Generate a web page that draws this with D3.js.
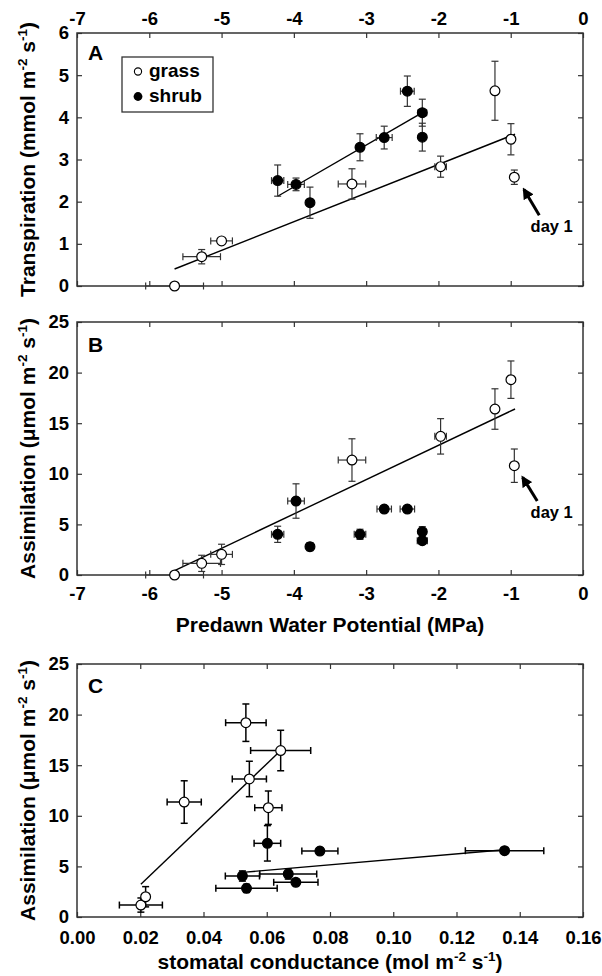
<!DOCTYPE html>
<html>
<head>
<meta charset="utf-8">
<script src="https://cdn.jsdelivr.net/npm/d3@7"></script>
<style>
  body { margin: 0; background: #fff; }
  text { font-family: "Liberation Sans", Arial, sans-serif; font-weight: bold; }
</style>
</head>
<body>
<script>
// Panel A: transpiration vs predawn water potential (last grass point = day 1)
const aGrassX  = [-5.65, -5.275, -5.0, -3.196, -1.97, -1.218, -0.997, -0.95];
const aGrassY  = [0, 0.695, 1.07, 2.42, 2.83, 4.63, 3.48, 2.58];
const aGrassXe = [0.4, 0.26, 0.15, 0.19, 0.08, 0, 0, 0];
const aGrassYe = [0, 0.17, 0.05, 0.36, 0.25, 0.7, 0.37, 0.17];
const aShrubX  = [-4.224, -3.97, -3.777, -3.085, -2.75, -2.43, -2.223, -2.223];
const aShrubY  = [2.50, 2.41, 1.975, 3.29, 3.52, 4.62, 4.11, 3.53];
const aShrubXe = [0.085, 0.115, 0, 0.05, 0.11, 0.095, 0.06, 0];
const aShrubYe = [0.37, 0.15, 0.37, 0.32, 0.27, 0.36, 0.32, 0.33];
// regression lines: [from x, to x, intercept, slope]
const aFits = [[-5.65, -0.94, 4.24, 0.679], [-4.224, -2.223, 6.31, 0.99]];

// Panel B: assimilation vs predawn water potential
const bGrassY  = [0, 1.15, 2.04, 11.36, 13.7, 16.4, 19.3, 10.8];
const bGrassYe = [0, 0.8, 1.0, 2.1, 1.75, 2.0, 1.85, 1.65];
const bShrubY  = [4.02, 7.31, 2.8, 4.02, 6.52, 6.52, 4.28, 3.39];
const bShrubXe = [0.085, 0.115, 0, 0.08, 0.1, 0.1, 0, 0.07];
const bShrubYe = [0.8, 1.7, 0.4, 0.5, 0.3, 0.3, 0.5, 0.3];
const bFits = [[-5.65, -0.94, 19.59, 3.39]];

// Panel C: assimilation vs stomatal conductance
const cGrassX  = [0.0202, 0.0217, 0.0339, 0.0534, 0.0644, 0.0545, 0.0605];
const cGrassY  = [1.18, 2.0, 11.36, 19.2, 16.45, 13.64, 10.8];
const cGrassXe = [0.0068, 0, 0.0054, 0.0064, 0.0095, 0.0054, 0.0043];
const cGrassYe = [0.7, 1.0, 2.1, 1.85, 2.0, 1.75, 1.65];
const cShrubX  = [0.0602, 0.0768, 0.0523, 0.0536, 0.0668, 0.0692, 0.1352];
const cShrubY  = [7.28, 6.52, 4.05, 2.83, 4.25, 3.43, 6.55];
const cShrubXe = [0.0042, 0.0057, 0.0054, 0.0097, 0.009, 0.007, 0.0124];
const cShrubYe = [1.75, 0.3, 0.5, 0.4, 0.5, 0.3, 0.3];
const cFits = [[0.0202, 0.0644, -2.81, 299], [0.0523, 0.1352, 3.0, 27.0]];

// "day 1" arrows: [tail x, tail y, head x, head y], label [x, y]
const aArrow = [-0.605, 1.68, -0.817, 2.29], aArrowLabel = [-0.433, 1.29];
const bArrow = [-0.633, 7.31, -0.835, 9.65], bArrowLabel = [-0.433, 5.63];

// tick values
const wpTicks = [-7, -6, -5, -4, -3, -2, -1, 0];
const transTicks = [0, 1, 2, 3, 4, 5, 6];
const assimTicks = [0, 5, 10, 15, 20, 25];
const gsTicks = [0, 0.02, 0.04, 0.06, 0.08, 0.10, 0.12, 0.14, 0.16];

const width = 602, height = 976;
const svg = d3.select("body").append("svg")
    .attr("width", width)
    .attr("height", height);

const left = 77, right = 583;
const xWP = d3.scaleLinear().domain([-7, 0]).range([left, right]);
const xGs = d3.scaleLinear().domain([0, 0.16]).range([left, right]);
const yA = d3.scaleLinear().domain([0, 6]).range([286, 33]);
const yB = d3.scaleLinear().domain([0, 25]).range([575, 322]);
const yC = d3.scaleLinear().domain([0, 25]).range([917, 664]);

svg.append("defs").append("marker")
    .attr("id", "head")
    .attr("viewBox", "0 0 10 10")
    .attr("refX", 8).attr("refY", 5)
    .attr("markerWidth", 3.8).attr("markerHeight", 3.8)
    .attr("orient", "auto")
    .append("path")
    .attr("d", "M0,0 L10,5 L0,10 z")
    .attr("fill", "#000");

function styleAxis(g) {
    g.select(".domain").remove();
    g.selectAll("line").attr("stroke", "#333").attr("stroke-width", 1.2);
    g.selectAll("text").attr("fill", "#000");
    g.attr("font-size", 18.5).attr("font-family", null);
}

// frame + axes; opts says which sides carry tick labels
function frame(x, y, xTicks, yTicks, xFmt, opts) {
    const [y0, y1] = y.range();
    const top = Math.min(y0, y1), bottom = Math.max(y0, y1);
    svg.append("g").attr("transform", `translate(0,${bottom})`)
        .call(d3.axisBottom(x).tickValues(xTicks).tickSizeInner(-5).tickSizeOuter(0)
            .tickPadding(opts.bottomPad || 10)
            .tickFormat(opts.bottomLabels ? xFmt : ""))
        .call(styleAxis);
    svg.append("g").attr("transform", `translate(0,${top})`)
        .call(d3.axisTop(x).tickValues(xTicks).tickSizeInner(-5).tickSizeOuter(0)
            .tickPadding(8)
            .tickFormat(opts.topLabels ? xFmt : ""))
        .call(styleAxis);
    svg.append("g").attr("transform", `translate(${left},0)`)
        .call(d3.axisLeft(y).tickValues(yTicks).tickSizeInner(-5).tickSizeOuter(0)
            .tickPadding(8).tickFormat(d => String(d)))
        .call(styleAxis);
    svg.append("g").attr("transform", `translate(${right},0)`)
        .call(d3.axisRight(y).tickValues(yTicks).tickSizeInner(-5).tickSizeOuter(0)
            .tickFormat(""))
        .call(styleAxis);
    svg.append("rect")
        .attr("x", left).attr("y", top)
        .attr("width", right - left).attr("height", bottom - top)
        .attr("fill", "none").attr("stroke", "#333").attr("stroke-width", 1.5);
}

function fits(x, y, list) {
    svg.append("g").selectAll("line")
        .data(list)
        .enter().append("line")
        .attr("x1", d => x(d[0])).attr("y1", d => y(d[2] + d[3] * d[0]))
        .attr("x2", d => x(d[1])).attr("y2", d => y(d[2] + d[3] * d[1]))
        .attr("stroke", "#000").attr("stroke-width", 1.4);
}

function series(x, y, xs, ys, xe, ye, filled, barColor, barWidth) {
    const pts = xs.map((v, i) => ({ x: v, y: ys[i], xe: xe[i], ye: ye[i] }));
    const g = svg.append("g");
    const cap = 3.5;
    const bars = g.append("g").attr("stroke", barColor).attr("stroke-width", barWidth);
    pts.forEach(p => {
        if (p.ye > 0) {
            bars.append("line").attr("x1", x(p.x)).attr("x2", x(p.x))
                .attr("y1", y(p.y - p.ye)).attr("y2", y(p.y + p.ye));
            [p.y - p.ye, p.y + p.ye].forEach(v =>
                bars.append("line").attr("x1", x(p.x) - cap).attr("x2", x(p.x) + cap)
                    .attr("y1", y(v)).attr("y2", y(v)));
        }
        if (p.xe > 0) {
            bars.append("line").attr("y1", y(p.y)).attr("y2", y(p.y))
                .attr("x1", x(p.x - p.xe)).attr("x2", x(p.x + p.xe));
            [p.x - p.xe, p.x + p.xe].forEach(v =>
                bars.append("line").attr("y1", y(p.y) - cap).attr("y2", y(p.y) + cap)
                    .attr("x1", x(v)).attr("x2", x(v)));
        }
    });
    g.selectAll("circle")
        .data(pts)
        .enter().append("circle")
        .attr("cx", d => x(d.x))
        .attr("cy", d => y(d.y))
        .attr("r", 4.9)
        .attr("fill", filled ? "#000" : "#fff")
        .attr("stroke", "#000")
        .attr("stroke-width", 1.2);
}

function arrow(x, y, a, lab) {
    svg.append("line")
        .attr("x1", x(a[0])).attr("y1", y(a[1]))
        .attr("x2", x(a[2])).attr("y2", y(a[3]))
        .attr("stroke", "#000").attr("stroke-width", 3)
        .attr("marker-end", "url(#head)");
    svg.append("text")
        .attr("x", x(lab[0])).attr("y", y(lab[1]))
        .attr("text-anchor", "middle")
        .attr("font-size", 16.5)
        .text("day 1");
}

function panelLetter(s, yBase) {
    svg.append("text").attr("x", 88).attr("y", yBase)
        .attr("font-size", 21).text(s);
}

// rotated y title with superscripts
function yTitle(cy, main, unit) {
    const t = svg.append("text")
        .attr("transform", `translate(35,${cy}) rotate(-90)`)
        .attr("text-anchor", "middle")
        .attr("font-size", 21);
    t.append("tspan").text(main + " (" + unit + " m");
    t.append("tspan").attr("font-size", 13.5).attr("dy", -8).text("-2");
    t.append("tspan").attr("dy", 8).text(" s");
    t.append("tspan").attr("font-size", 13.5).attr("dy", -8).text("-1");
    t.append("tspan").attr("dy", 8).text(")");
}

const wpFmt = d => String(d);
const gsFmt = d3.format(".2f");

// Panel A
frame(xWP, yA, wpTicks, transTicks, wpFmt, { topLabels: true, bottomLabels: false });
fits(xWP, yA, aFits);
series(xWP, yA, aShrubX, aShrubY, aShrubXe, aShrubYe, true, "#333", 1.2);
series(xWP, yA, aGrassX, aGrassY, aGrassXe, aGrassYe, false, "#333", 1.2);
arrow(xWP, yA, aArrow, aArrowLabel);
panelLetter("A", 60);
yTitle(yA.range().reduce((a, b) => a + b) / 2, "Transpiration", "mmol");

// legend
const leg = svg.append("g");
leg.append("rect").attr("x", 122).attr("y", 57).attr("width", 91).attr("height", 55)
    .attr("fill", "#fff").attr("stroke", "#333").attr("stroke-width", 1.3);
leg.append("circle").attr("cx", 138).attr("cy", 71.5).attr("r", 3.6)
    .attr("fill", "#fff").attr("stroke", "#000").attr("stroke-width", 1.1);
leg.append("circle").attr("cx", 138).attr("cy", 96.5).attr("r", 4.4).attr("fill", "#000");
leg.append("text").attr("x", 149).attr("y", 77).attr("font-size", 19).text("grass");
leg.append("text").attr("x", 149).attr("y", 102).attr("font-size", 19).text("shrub");

// Panel B
frame(xWP, yB, wpTicks, assimTicks, wpFmt, { topLabels: false, bottomLabels: true, bottomPad: 12 });
fits(xWP, yB, bFits);
series(xWP, yB, aShrubX, bShrubY, bShrubXe, bShrubYe, true, "#333", 1.2);
series(xWP, yB, aGrassX, bGrassY, aGrassXe, bGrassYe, false, "#333", 1.2);
arrow(xWP, yB, bArrow, bArrowLabel);
panelLetter("B", 352);
yTitle(yB.range().reduce((a, b) => a + b) / 2, "Assimilation", "μmol");

svg.append("text").attr("x", (left + right) / 2).attr("y", 632)
    .attr("text-anchor", "middle").attr("font-size", 21)
    .text("Predawn Water Potential (MPa)");

// Panel C
frame(xGs, yC, gsTicks, assimTicks, gsFmt, { topLabels: false, bottomLabels: true, bottomPad: 14 });
fits(xGs, yC, cFits);
series(xGs, yC, cShrubX, cShrubY, cShrubXe, cShrubYe, true, "#000", 1.5);
series(xGs, yC, cGrassX, cGrassY, cGrassXe, cGrassYe, false, "#000", 1.5);
panelLetter("C", 693);
yTitle(yC.range().reduce((a, b) => a + b) / 2, "Assimilation", "μmol");

const xt = svg.append("text").attr("x", (left + right) / 2).attr("y", 969)
    .attr("text-anchor", "middle").attr("font-size", 21);
xt.append("tspan").text("stomatal conductance (mol m");
xt.append("tspan").attr("font-size", 13.5).attr("dy", -8).text("-2");
xt.append("tspan").attr("dy", 8).text(" s");
xt.append("tspan").attr("font-size", 13.5).attr("dy", -8).text("-1");
xt.append("tspan").attr("dy", 8).text(")");
</script>
</body>
</html>
